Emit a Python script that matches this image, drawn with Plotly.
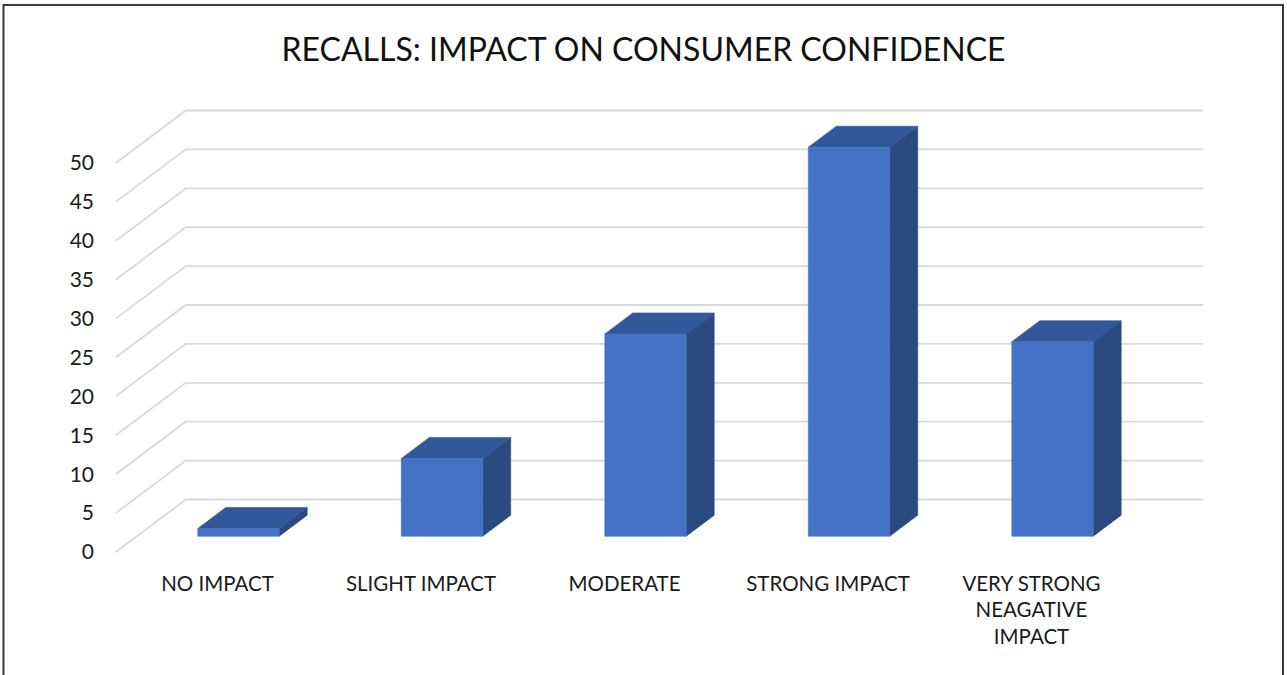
import plotly.graph_objects as go

# Survey results
categories = ["NO IMPACT", "SLIGHT IMPACT", "MODERATE", "STRONG IMPACT",
              "VERY STRONG<br>NEAGATIVE<br>IMPACT"]
values = [1, 10, 26, 50, 25]
tick_values = [0, 5, 10, 15, 20, 25, 30, 35, 40, 45, 50]

W, H = 1287, 675

# Oblique projection of the depth axis (in data units)
DX = 0.344   # horizontal shift from front plane to back wall (category units)
DY = 6.75    # vertical shift from front plane to back wall (value units)
F0, F1 = 0.3, 0.7   # depth span occupied by the columns
HALF = 0.2           # half column width

FRONT = "#4472C4"
TOP = "#31589A"
SIDE = "#2A4A80"
GRID = "#D9D9D9"

fig = go.Figure()

# Side wall + back wall gridlines
gx, gy = [], []
x_left, x_right = -0.5, len(categories) - 0.5
for v in tick_values:
    gx += [x_left, x_left + DX, x_right + DX, None]
    gy += [v, v + DY, v + DY, None]
fig.add_trace(go.Scatter(x=gx, y=gy, mode="lines",
                         line=dict(color=GRID, width=1.8),
                         hoverinfo="skip", showlegend=False))

# 3D columns built as projected faces
fx, fy, tx, ty, sx, sy = [], [], [], [], [], []
for i, v in enumerate(values):
    xl = i - HALF + F0 * DX
    xr = i + HALF + F0 * DX
    b0 = F0 * DY
    b1 = F1 * DY
    d = (F1 - F0) * DX
    fx += [xl, xr, xr, xl, xl, None]
    fy += [b0, b0, v + b0, v + b0, b0, None]
    tx += [xl, xr, xr + d, xl + d, xl, None]
    ty += [v + b0, v + b0, v + b1, v + b1, v + b0, None]
    sx += [xr, xr + d, xr + d, xr, xr, None]
    sy += [b0, b1, v + b1, v + b0, b0, None]

for px, py, col in [(sx, sy, SIDE), (tx, ty, TOP), (fx, fy, FRONT)]:
    fig.add_trace(go.Scatter(x=px, y=py, mode="lines", fill="toself",
                             fillcolor=col, line=dict(color=col, width=0.6),
                             hoverinfo="skip", showlegend=False))

# Pixel -> data mapping for the front plane
px_c0, px_step = 217.5, 203.5
py_0, py_unit = 552.0, 7.78

fig.update_layout(
    width=W, height=H,
    margin=dict(l=0, r=0, t=0, b=0),
    paper_bgcolor="white", plot_bgcolor="white",
    font=dict(family="Lato", color="#1a1a1a"),
    title=dict(text="RECALLS: IMPACT ON CONSUMER CONFIDENCE",
               x=0.5, xanchor="center", y=1 - 49.5 / H, yanchor="middle",
               font=dict(family="Lato", size=32, color="#111111")),
    xaxis=dict(range=[(0 - px_c0) / px_step, (W - px_c0) / px_step],
               tickvals=list(range(len(categories))), ticktext=categories,
               showgrid=False, zeroline=False, showline=False, ticks="",
               anchor="free", position=(H - py_0) / H,
               ticklabelstandoff=17,
               tickfont=dict(family="Lato", size=20.5, color="#1a1a1a")),
    yaxis=dict(range=[(py_0 - H) / py_unit, py_0 / py_unit],
               tickvals=tick_values,
               showgrid=False, zeroline=False, showline=False, ticks="",
               anchor="free", position=115 / W,
               ticklabelstandoff=21,
               tickfont=dict(family="Lato", size=21, color="#1a1a1a")),
    shapes=[dict(type="rect", xref="paper", yref="paper",
                 x0=3.5 / W, x1=1283 / W, y0=-0.02, y1=1 - 5 / H,
                 line=dict(color="#3a3a3a", width=2))],
)

fig.write_html("out.html")
